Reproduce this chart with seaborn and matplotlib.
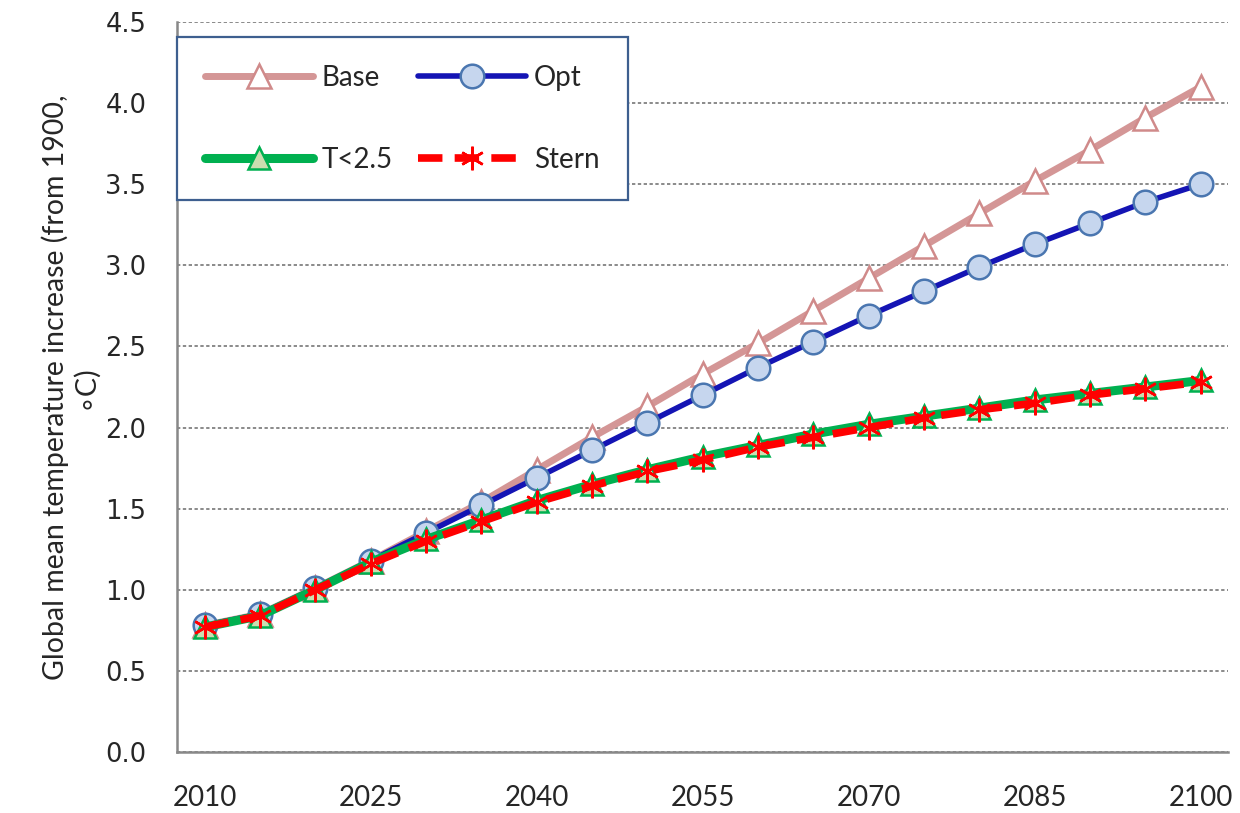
import numpy as np
import matplotlib
matplotlib.use("Agg")
import matplotlib.pyplot as plt
import seaborn as sn
import pandas as pd

years = list(range(2010, 2101, 5))
base = [0.78, 0.85, 1.01, 1.18, 1.36, 1.54, 1.74, 1.94, 2.13, 2.33, 2.52,
        2.72, 2.92, 3.12, 3.32, 3.52, 3.71, 3.91, 4.10]
opt = [0.78, 0.85, 1.01, 1.18, 1.35, 1.52, 1.69, 1.86, 2.03, 2.20, 2.37,
       2.53, 2.69, 2.84, 2.99, 3.13, 3.26, 3.39, 3.50]
t25 = [0.77, 0.84, 1.00, 1.17, 1.31, 1.43, 1.55, 1.65, 1.74, 1.82, 1.89,
       1.96, 2.02, 2.07, 2.12, 2.17, 2.21, 2.25, 2.29]
stern = [0.77, 0.84, 1.00, 1.16, 1.30, 1.42, 1.54, 1.64, 1.73, 1.80, 1.88,
         1.94, 2.00, 2.06, 2.11, 2.15, 2.20, 2.24, 2.28]

xtick_labels = [2010, 2025, 2040, 2055, 2070, 2085, 2100]
ylabel = "Global mean temperature increase (from 1900,\n\u2218C)"

df = pd.DataFrame({"year": years, "Base": base, "Opt": opt,
                   "T<2.5": t25, "Stern": stern})

sn.set_style("white")
plt.rcParams['font.family'] = ['Lato', 'DejaVu Sans']

fig = plt.figure(figsize=(12.4, 8.13), dpi=100)
ax = fig.add_axes([0.1427, 0.075, 0.848, 0.898])

# series, drawn in the order of the original
sn.lineplot(data=df, x="year", y="Base", ax=ax, color="#D49696", lw=5,
            marker="^", ms=17, mfc="white", mec="#D08A8A", mew=1.8,
            label="Base")
sn.lineplot(data=df, x="year", y="Opt", ax=ax, color="#1414B4", lw=4,
            marker="o", ms=17, mfc="#C6D6EE", mec="#4A76B0", mew=1.8,
            label="Opt")
sn.lineplot(data=df, x="year", y="T<2.5", ax=ax, color="#00B050", lw=6.5,
            marker="^", ms=16, mfc="#CCDDB0", mec="#00B050", mew=1.8,
            label="T<2.5")
sn.lineplot(data=df, x="year", y="Stern", ax=ax, color="#FF0000", lw=5.5,
            dashes=(3.2, 1.6), marker=(6, 2, 0), ms=17, mec="#FF0000",
            mew=1.8, label="Stern")

ax.set_xlim(2007.5, 2102.5)
ax.set_ylim(0, 4.5)
ax.set_yticks(np.arange(0, 4.51, 0.5))
ax.set_yticklabels(["%.1f" % v for v in np.arange(0, 4.51, 0.5)],
                   family="DejaVu Sans", fontsize=18.5)
ax.set_xticks(xtick_labels)
ax.set_xticklabels([str(v) for v in xtick_labels], fontsize=20)
ax.set_xticks([2007.5, 2027.5, 2047.5, 2067.5, 2087.5], minor=True)
ax.tick_params(axis="x", which="major", length=0, pad=24)
ax.tick_params(axis="x", which="minor", length=10, width=1.3,
               color="#888888", direction="out")
ax.tick_params(axis="y", length=8, width=1.3, color="#888888",
               direction="out", pad=14)
ax.yaxis.grid(True, linestyle=(0, (2, 1.5)), color="#777777", lw=1.2)
ax.set_axisbelow(True)
for s in ["top", "right"]:
    ax.spines[s].set_visible(False)
for s in ["left", "bottom"]:
    ax.spines[s].set_color("#888888")
    ax.spines[s].set_linewidth(1.8)

ax.set_xlabel("")
ax.set_ylabel(ylabel, fontsize=20.5, labelpad=6, linespacing=1.05)

h, l = ax.get_legend_handles_labels()
order = [0, 2, 1, 3]
leg = ax.legend([h[i] for i in order], [l[i] for i in order], ncol=2,
                loc="upper left", bbox_to_anchor=(0.0, 0.979),
                borderaxespad=0, fontsize=20, handlelength=3.9,
                labelspacing=2.0, columnspacing=0.9, borderpad=1.0,
                handletextpad=0.3, fancybox=False, framealpha=1,
                edgecolor="#3E5F8F")
leg.get_frame().set_linewidth(1.6)

plt.savefig("out.png", dpi=100)
